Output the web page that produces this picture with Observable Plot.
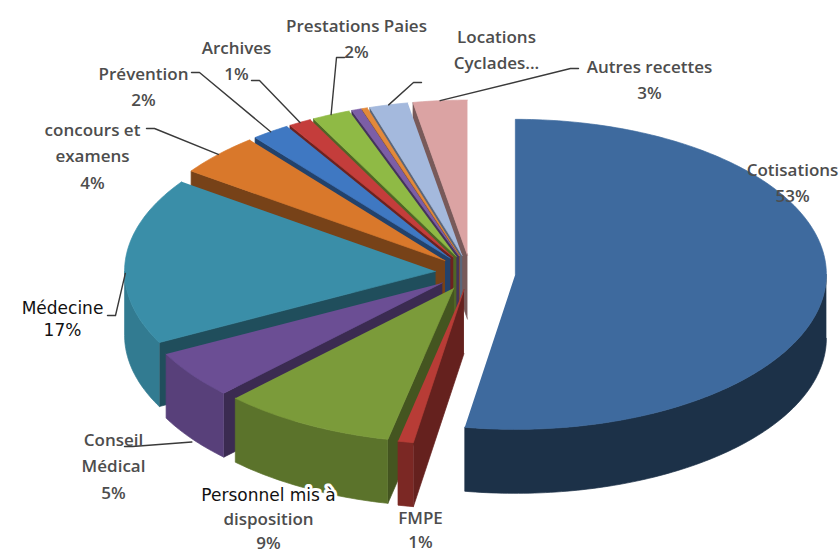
<!DOCTYPE html>
<html><head><meta charset="utf-8">
<script src="https://cdn.jsdelivr.net/npm/d3@7"></script>
<script src="https://cdn.jsdelivr.net/npm/@observablehq/plot@0.6"></script>
<style>body{margin:0;background:#fff;overflow:hidden}</style>
</head><body><div id="chart"></div>
<script>
// ---- data ----
const categories = ["Cotisations","FMPE","Personnel mis à disposition","Conseil Médical","Médecine","concours et examens","Prévention","Archives","Prestations Paies","Divers A","Divers B","Locations Cyclades","Autres recettes"];
const values = [52.6, 0.8, 9.0, 5.0, 17.4, 4.4, 2.0, 1.2, 2.0, 0.5, 0.3, 2.0, 2.8];
const percentLabels = ["53%","1%","9%","5%","17%","4%","2%","1%","2%","","","","3%"];
const labelText = ["Cotisations","FMPE","Personnel mis à\ndisposition","Conseil\nMédical","Médecine","concours et\nexamens","Prévention","Archives","Prestations Paies","","","Locations\nCyclades...","Autres recettes"];

// ---- styles ----
const topColors = ["#3e6a9e","#b83c36","#7b9b3a","#6b4e94","#3a8ea8","#d9782b","#3f78c2","#c43d3b","#8fba45","#7c5ea6","#e3893b","#a4b9dd","#dba3a3"];
const W = 839, H = 553;
const CX = 470, CY = 272, RX = 311, RY = 155, DEPTH = 64, SQUASH = 0.5;
const explodeDist = categories.map((c, i) => i === 0 ? 45 : 35);
// label layout (baseline of first line, leader start), not data
const labelLayout = [
  {x: 792, y: 175},
  {x: 420, y: 523, gap: 24},
  {x: 268, y: 500, gap: 24, firstDV: true},
  {x: 113, y: 445, lead: [124, 446], drop: 1.05},
  {x: 62, y: 313, lead: [107, 315], drop: 0.2, dv: true, gap: 22.5},
  {x: 92, y: 135, lead: [146, 128], drop: 0},
  {x: 143, y: 79, lead: [191, 72], drop: 0},
  {x: 236, y: 53, lead: [251, 80], drop: 0},
  {x: 356, y: 31, lead: [344, 57], drop: 0},
  null, null,
  {x: 496, y: 42, lead: [421, 82], drop: 0},
  {x: 649, y: 72, lead: [578, 68], drop: 0}
];

// ---- geometry from the data ----
const arcs = d3.pie().sort(null).value(d => d)(values);
const mid = i => (arcs[i].startAngle + arcs[i].endAngle) / 2;
function offset(i) { const m = mid(i), e = explodeDist[i]; return [e * Math.sin(m), -e * SQUASH * Math.cos(m)]; }
function rim(i, t, drop = 0) { const [ox, oy] = offset(i); return [CX + ox + RX * Math.sin(t), CY + oy - RY * Math.cos(t) + drop]; }
function apex(i) { const [ox, oy] = offset(i); return [CX + ox, CY + oy]; }
function angs(a0, a1) { const n = Math.max(2, Math.ceil((a1 - a0) / (Math.PI / 180))); return d3.range(n + 1).map(k => a0 + (a1 - a0) * k / n); }
const shade = (c, f) => { const r = d3.rgb(c); return d3.rgb(r.r * f, r.g * f, r.b * f).formatHex(); };

const walls = [], tops = [];
arcs.forEach((a, i) => {
  const col = topColors[i];
  tops.push({id: "t" + i, fill: col, pts: [apex(i), ...angs(a.startAngle, a.endAngle).map(t => rim(i, t))]});
  const c = apex(i);
  const radial = (t) => { const p = rim(i, t); walls.push({id: "r" + i + "_" + t, fill: shade(col, 0.55), key: (c[1] + p[1]) / 2, pts: [c, p, [p[0], p[1] + DEPTH], [c[0], c[1] + DEPTH]]}); };
  if (Math.sin(a.startAngle) < -1e-6) radial(a.startAngle);
  if (Math.sin(a.endAngle) > 1e-6) radial(a.endAngle);
  const lo = Math.max(a.startAngle, Math.PI / 2), hi = Math.min(a.endAngle, 3 * Math.PI / 2);
  if (hi > lo) {
    const tp = angs(lo, hi).map(t => rim(i, t));
    const bt = tp.map(p => [p[0], p[1] + DEPTH]).reverse();
    const f = 0.62 - 0.25 * Math.sin((lo + hi) / 2);
    walls.push({id: "o" + i, fill: shade(col, f), key: d3.mean(tp, p => p[1]), pts: [...tp, ...bt]});
  }
});
walls.sort((a, b) => a.key - b.key);
const flat = polys => polys.flatMap(p => p.pts.map(([x, y]) => ({id: p.id, fill: p.fill, x, y})));

// leader lines
const leads = [];
labelLayout.forEach((L, i) => {
  if (!L || !L.lead) return;
  const end = rim(i, mid(i), (L.drop || 0) * DEPTH);
  const [sx, sy] = L.lead;
  const el = [sx + Math.sign(end[0] - sx) * 8, sy];
  [[sx, sy], el, end].forEach(([x, y]) => leads.push({id: "l" + i, x, y}));
});

// label lines
const grayLines = [], dvLines = [];
labelLayout.forEach((L, i) => {
  if (!L) return;
  const lines = labelText[i].split("\n");
  if (percentLabels[i]) lines.push(percentLabels[i]);
  const gap = L.gap || 26.5;
  lines.forEach((s, k) => {
    const d = {x: L.x, y: L.y + k * gap, text: s};
    if (L.dv || (L.firstDV && k === 0)) dvLines.push(d); else grayLines.push(d);
  });
});

const plot = Plot.plot({
  width: W, height: H, margin: 0,
  x: {domain: [0, W], axis: null},
  y: {domain: [0, H], range: [0, H], axis: null},
  color: {type: "identity"},
  style: {background: "white", overflow: "hidden"},
  marks: [
    Plot.line(flat(walls), {x: "x", y: "y", z: "id", fill: "fill", stroke: "fill", strokeWidth: 0.7, curve: "linear"}),
    Plot.line(flat(tops), {x: "x", y: "y", z: "id", fill: "fill", stroke: "fill", strokeWidth: 0.7, curve: "linear"}),
    Plot.line(leads, {x: "x", y: "y", z: "id", stroke: "#3a3a3a", strokeWidth: 1.4}),
    Plot.text(grayLines, {x: "x", y: "y", text: "text", lineAnchor: "bottom", fontFamily: "Open Sans", fontSize: 17, fontWeight: 600, fill: "#4d4d4d"}),
    Plot.text(dvLines, {x: "x", y: "y", text: "text", lineAnchor: "bottom", fontFamily: "DejaVu Sans", fontSize: 17, fill: "#111111", stroke: "white", strokeWidth: 6, paintOrder: "stroke"})
  ]
});
document.getElementById("chart").appendChild(plot);
</script>
</body></html>
